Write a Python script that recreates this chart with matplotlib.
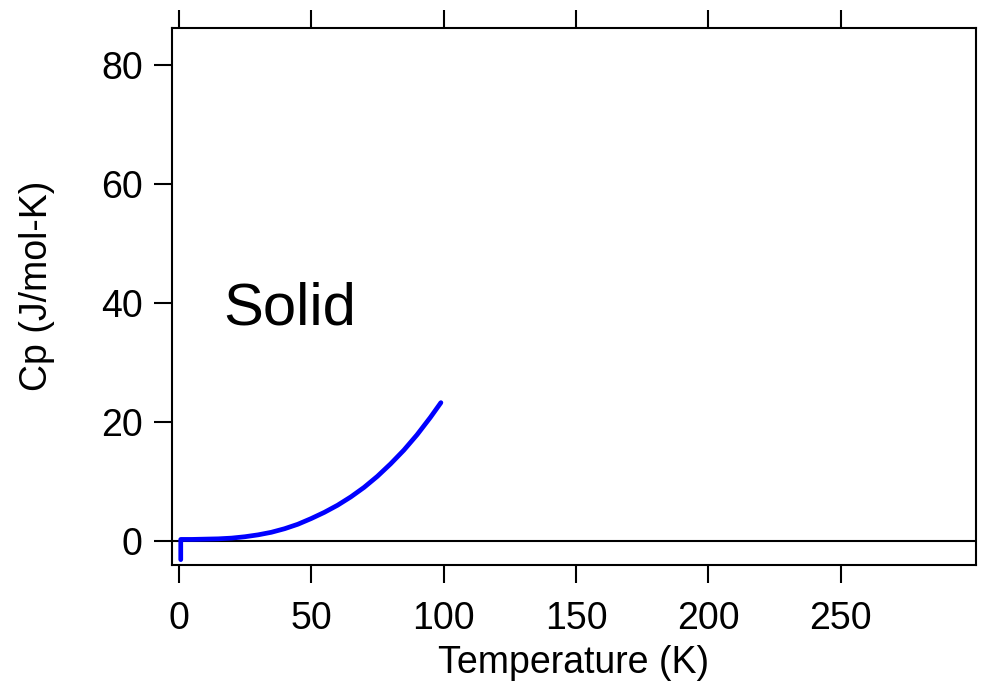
import matplotlib
matplotlib.use("Agg")
import matplotlib.pyplot as plt

plt.rcParams['font.family'] = ['Liberation Sans', 'DejaVu Sans']

# Data
temperature_K = [0.8, 0.8, 5, 10, 15, 20, 25, 30, 35, 40, 45, 50, 55, 60, 65, 70,
                 75, 80, 85, 90, 95, 99]
cp_J_molK = [-3.2, 0.2, 0.2, 0.25, 0.3, 0.42, 0.65, 0.97, 1.4, 2.0, 2.75, 3.7, 4.75,
             5.95, 7.35, 8.95, 10.8, 12.9, 15.2, 17.8, 20.7, 23.2]
x_ticks = [0, 50, 100, 150, 200, 250]
y_ticks = [0, 20, 40, 60, 80]

fig = plt.figure(figsize=(9.84, 6.86), dpi=100)
ax = fig.add_axes([0.1748, 0.1764, 0.8171, 0.7828])

ax.axhline(0, color='black', lw=1.5, zorder=1)
ax.plot(temperature_K, cp_J_molK, color='#0000ff', lw=3.4,
        solid_capstyle='round', solid_joinstyle='round', zorder=2)

ax.set_xlim(-2.5, 301)
ax.set_ylim(-4.1, 86.2)
ax.set_xticks(x_ticks)
ax.set_yticks(y_ticks)

for s in ax.spines.values():
    s.set_linewidth(1.5)

ax.tick_params(axis='both', which='major', direction='out', length=13,
               width=1.5, labelsize=27)
ax.tick_params(axis='x', top=True, labeltop=False, pad=13)
ax.tick_params(axis='y', right=False, pad=8)

ax.set_xlabel('Temperature (K)', fontsize=27, labelpad=6)
ax.set_ylabel('Cp (J/mol-K)', fontsize=27)
ax.yaxis.set_label_coords(-0.145, 0.52)

ax.text(17, 36.3, 'Solid', fontsize=43, ha='left', va='baseline')

fig.savefig('out.png', dpi=100)
